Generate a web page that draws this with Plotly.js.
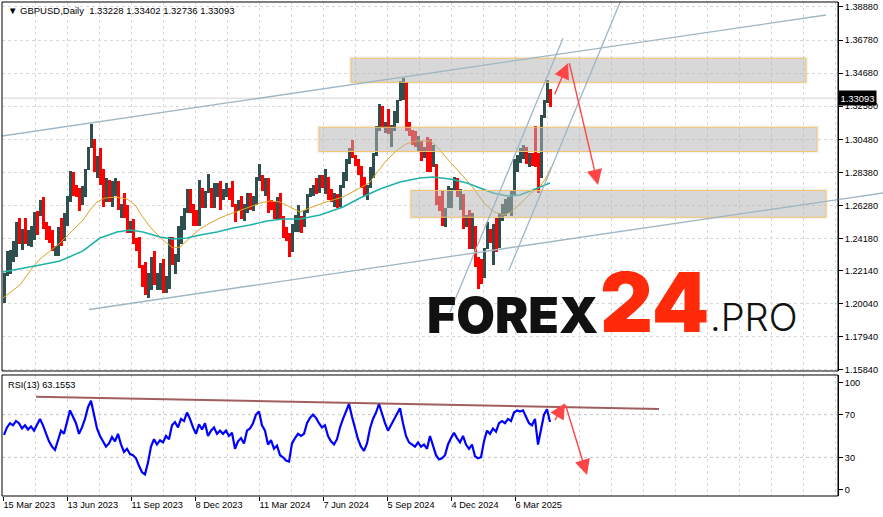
<!DOCTYPE html>
<html><head><meta charset="utf-8">
<script src="https://cdn.plot.ly/plotly-3.0.1.min.js"></script>
<style>html,body{margin:0;padding:0;background:#fff;}#chart{width:883px;height:517px;}</style>
</head><body><div id="chart"></div>
<script>
// ---- data (each sample = 3 daily bars) ----
const barStep = 3;
const high = [
1.2200,1.2340,1.2345,1.2400,1.2525,1.2545,1.2480,1.2545,1.2470,1.2500,
1.2585,1.2590,1.2665,1.2680,1.2520,1.2500,1.2470,1.2370,1.2490,1.2545,
1.2580,1.2690,1.2848,1.2840,1.2760,1.2740,1.2750,1.2860,1.3000,1.3142,
1.3050,1.2940,1.2995,1.2860,1.2800,1.2790,1.2780,1.2800,1.2780,1.2640,
1.2710,1.2630,1.2530,1.2540,1.2420,1.2425,1.2250,1.2270,1.2200,1.2300,
1.2340,1.2200,1.2260,1.2290,1.2180,1.2430,1.2430,1.2320,1.2500,1.2560,
1.2610,1.2730,1.2730,1.2640,1.2600,1.2790,1.2740,1.2720,1.2827,1.2740,
1.2770,1.2770,1.2780,1.2730,1.2770,1.2740,1.2780,1.2640,1.2660,1.2690,
1.2640,1.2710,1.2710,1.2690,1.2810,1.2894,1.2820,1.2800,1.2800,1.2660,
1.2650,1.2680,1.2710,1.2560,1.2490,1.2450,1.2510,1.2570,1.2630,1.2560,
1.2600,1.2700,1.2740,1.2760,1.2800,1.2820,1.2820,1.2860,1.2810,1.2730,
1.2710,1.2700,1.2760,1.2840,1.2920,1.2990,1.3044,1.2950,1.2920,1.2880,
1.2810,1.2760,1.2870,1.2960,1.3130,1.3270,1.3260,1.3160,1.3240,1.3140,
1.3230,1.3300,1.3420,1.3434,1.3410,1.3160,1.3110,1.3100,1.3070,1.3040,
1.3000,1.3060,1.3050,1.3010,1.2890,1.2690,1.2720,1.2610,1.2750,1.2740,
1.2811,1.2800,1.2730,1.2700,1.2570,1.2600,1.2580,1.2500,1.2300,1.2290,
1.2360,1.2520,1.2480,1.2510,1.2550,1.2580,1.2640,1.2670,1.2680,1.2720,
1.2920,1.2950,1.2990,1.3010,1.3000,1.2960,1.2960,1.3130,1.2960,1.3200,
1.3300,1.3424,1.3370];
const low = [
1.2010,1.2180,1.2190,1.2270,1.2300,1.2380,1.2345,1.2380,1.2370,1.2365,
1.2410,1.2440,1.2560,1.2480,1.2410,1.2390,1.2340,1.2310,1.2310,1.2370,
1.2400,1.2500,1.2650,1.2690,1.2680,1.2590,1.2630,1.2680,1.2850,1.2990,
1.2840,1.2800,1.2760,1.2620,1.2650,1.2650,1.2620,1.2690,1.2600,1.2550,
1.2550,1.2450,1.2450,1.2380,1.2340,1.2230,1.2110,1.2060,1.2037,1.2090,
1.2120,1.2090,1.2090,1.2070,1.2070,1.2100,1.2250,1.2190,1.2270,1.2380,
1.2470,1.2580,1.2580,1.2500,1.2500,1.2500,1.2610,1.2610,1.2710,1.2610,
1.2610,1.2680,1.2600,1.2660,1.2680,1.2660,1.2620,1.2520,1.2590,1.2540,
1.2530,1.2580,1.2600,1.2590,1.2630,1.2780,1.2720,1.2690,1.2580,1.2600,
1.2540,1.2540,1.2540,1.2420,1.2400,1.2300,1.2330,1.2460,1.2460,1.2450,
1.2490,1.2580,1.2680,1.2690,1.2700,1.2710,1.2740,1.2700,1.2660,1.2650,
1.2620,1.2610,1.2620,1.2740,1.2780,1.2890,1.2930,1.2880,1.2820,1.2740,
1.2690,1.2665,1.2740,1.2800,1.2940,1.3100,1.3120,1.3090,1.3080,1.3000,
1.3100,1.3150,1.3290,1.3300,1.3100,1.3070,1.3010,1.3000,1.2970,1.2910,
1.2930,1.2840,1.2840,1.2870,1.2630,1.2590,1.2500,1.2490,1.2610,1.2610,
1.2720,1.2680,1.2600,1.2480,1.2490,1.2350,1.2350,1.2240,1.2100,1.2130,
1.2170,1.2350,1.2390,1.2250,1.2330,1.2360,1.2530,1.2560,1.2580,1.2560,
1.2690,1.2840,1.2900,1.2920,1.2890,1.2870,1.2880,1.2870,1.2707,1.2800,
1.3180,1.3280,1.3250];
const close = [
1.2170,1.2270,1.2300,1.2380,1.2500,1.2415,1.2460,1.2410,1.2440,1.2450,
1.2570,1.2560,1.2620,1.2500,1.2480,1.2440,1.2350,1.2350,1.2450,1.2430,
1.2580,1.2670,1.2790,1.2740,1.2710,1.2700,1.2710,1.2860,1.3000,1.3040,
1.2860,1.2930,1.2840,1.2660,1.2730,1.2700,1.2730,1.2760,1.2600,1.2630,
1.2590,1.2470,1.2510,1.2400,1.2390,1.2240,1.2150,1.2070,1.2190,1.2290,
1.2140,1.2140,1.2240,1.2090,1.2150,1.2380,1.2270,1.2280,1.2410,1.2540,
1.2610,1.2700,1.2620,1.2570,1.2560,1.2680,1.2650,1.2720,1.2730,1.2700,
1.2720,1.2760,1.2700,1.2700,1.2710,1.2700,1.2630,1.2620,1.2630,1.2590,
1.2620,1.2670,1.2660,1.2660,1.2800,1.2800,1.2740,1.2790,1.2630,1.2620,
1.2550,1.2640,1.2550,1.2450,1.2440,1.2340,1.2490,1.2490,1.2560,1.2520,
1.2590,1.2670,1.2730,1.2740,1.2730,1.2760,1.2750,1.2770,1.2690,1.2660,
1.2690,1.2640,1.2750,1.2820,1.2910,1.2970,1.2930,1.2910,1.2840,1.2750,
1.2710,1.2750,1.2840,1.2950,1.3110,1.3200,1.3130,1.3140,1.3090,1.3120,
1.3210,1.3290,1.3380,1.3380,1.3120,1.3090,1.3060,1.3000,1.3040,1.2970,
1.2970,1.2920,1.2880,1.2880,1.2670,1.2660,1.2530,1.2580,1.2650,1.2740,
1.2770,1.2680,1.2700,1.2540,1.2570,1.2380,1.2480,1.2300,1.2210,1.2170,
1.2340,1.2450,1.2400,1.2480,1.2400,1.2560,1.2620,1.2660,1.2670,1.2700,
1.2890,1.2920,1.2940,1.3000,1.2920,1.2930,1.2920,1.2890,1.2800,1.3190,
1.3290,1.3340,1.33093];
const rsi = [
51,58,62,60,64,62,57,60,56,59, 55,61,66,60,52,45,40,37,46,55,
52,63,74,68,62,52,58,66,77,83, 70,57,50,45,40,43,49,45,52,42,
35,38,33,32,29,22,16,14,25,40, 47,42,46,44,50,47,60,63,58,66,
64,72,66,58,52,61,56,62,50,55, 58,52,55,52,55,50,53,38,45,48,
43,55,57,62,70,73,60,55,42,46, 38,41,32,30,27,26,43,48,52,50,
52,62,67,70,67,62,58,60,50,45, 42,47,58,66,74,80,68,58,47,40,
36,43,57,66,72,80,70,62,55,60, 65,70,76,62,50,44,42,40,44,40,
42,38,50,42,32,28,29,32,42,48, 53,48,44,50,42,38,42,31,29,30,
45,55,52,57,54,62,64,62,66,64, 72,74,73,74,68,62,60,66,42,58,
70,75,63];
// moving averages (bar index, price)
const maFastIdx = [0,17,30,37,47,57,64,72,80,87,94,102,112,124,132,137,147,160,170,177,184,190,197,207,217,227,244,257,267,277,287,297,307,323,340,353,366,373,383,393,403,413,428,437,447,461,471,481,491,501,508,518,528,536,543,548];
const maFastVal = [1.2040,1.2123,1.2237,1.2288,1.2339,1.2389,1.2434,1.2485,1.2535,1.2599,1.2650,1.2675,1.2681,1.2669,1.2631,1.2580,1.2491,1.2408,1.2358,1.2364,1.2408,1.2440,1.2478,1.2516,1.2548,1.2574,1.2612,1.2643,1.2656,1.2650,1.2618,1.2586,1.2612,1.2650,1.2681,1.2726,1.2770,1.2828,1.2910,1.2974,1.3018,1.3037,1.3037,1.2980,1.2904,1.2808,1.2732,1.2643,1.2586,1.2567,1.2586,1.2643,1.2707,1.2739,1.2802,1.2872];
const maSlowIdx = [0,17,37,57,80,97,114,127,140,157,170,184,197,214,230,247,264,280,297,317,340,357,377,397,417,430,447,464,477,490,504,517,530,547];
const maSlowVal = [1.2205,1.2224,1.2250,1.2275,1.2339,1.2421,1.2459,1.2472,1.2459,1.2427,1.2415,1.2421,1.2440,1.2459,1.2485,1.2504,1.2529,1.2542,1.2542,1.2567,1.2618,1.2675,1.2732,1.2777,1.2802,1.2808,1.2796,1.2770,1.2739,1.2707,1.2688,1.2694,1.2726,1.2770];
// axis labels
const dateTickIdx = [0,64,128,192,256,320,384,448,512];
const dateTickText = ['15 Mar 2023','13 Jun 2023','11 Sep 2023','8 Dec 2023','11 Mar 2024','7 Jun 2024','5 Sep 2024','4 Dec 2024','6 Mar 2025'];
const priceTicks = [1.38880,1.36780,1.34680,1.32580,1.30480,1.28380,1.26280,1.24180,1.22140,1.20040,1.17940,1.15840];
const rsiTicks = [0,30,70,100];
const rsiLevels = [30,70];
const headerText = 'GBPUSD,Daily\u00A0\u00A01.33228 1.33402 1.32736 1.33093';
const rsiLabel = 'RSI(13) 63.1553';
// analyst drawings: zones [idx0, idx1, price0, price1]
const zoneTop = [348, 803, 1.34099, 1.35623];
const zoneMid = [316, 814, 1.29705, 1.31242];
const zoneLow = [408, 823, 1.25528, 1.27229];
const channelTopIdx = [-1, 823], channelTopVal = [1.30688, 1.38372];
const channelBotIdx = [86, 880], channelBotVal = [1.19671, 1.27069];
const steepAIdx = [447, 560], steepAVal = [1.19512, 1.36892];
const steepBIdx = [506, 618], steepBVal = [1.22179, 1.39324];
const rsiTrendIdx = [33, 656], rsiTrendVal = [86.9, 75.3];
const arrowUpIdx = [551, 565], arrowUpVal = [1.33247, 1.35305];
const arrowDownIdx = [566, 595], arrowDownVal = [1.35406, 1.27577];
const rsiArrowUpIdx = [551, 562], rsiArrowUpVal = [63.4, 80.7];
const rsiArrowDownIdx = [562, 584], rsiArrowDownVal = [80.7, 13.4];

// ---- build ----
const X_RANGE = [-1, 835];
const Y_RANGE = [1.15766, 1.39197];
const R_RANGE = [-6.3, 107.2];
const MAIN_DOM = [0.25304, 1];
const RSI_DOM = [0, 0.24494];
const FONT = 'Liberation Sans, Arial, sans-serif';
const GRID = '#d9d9d9';
const DASH = '3px,3px';

const xs = close.map((_, k) => k * barStep + 1);
const colors = close.map((c, k) => {
  const ref = k ? close[k - 1] : (high[k] + low[k]) / 2;
  return c >= ref ? '#2F4F4F' : '#FF0000';
});

const traces = [
  {type:'bar', x:xs, base:low, y:high.map((h,k)=>h-low[k]), width:barStep,
   marker:{color:colors, line:{width:0}}, xaxis:'x2', yaxis:'y', hoverinfo:'skip'},
  {type:'scatter', mode:'lines', x:maFastIdx, y:maFastVal, line:{color:'#DAA520', width:1},
   xaxis:'x2', yaxis:'y', hoverinfo:'skip'},
  {type:'scatter', mode:'lines', x:maSlowIdx, y:maSlowVal, line:{color:'#20B2AA', width:1.6},
   xaxis:'x2', yaxis:'y', hoverinfo:'skip'},
  {type:'scatter', mode:'lines', x:xs, y:rsi, line:{color:'#0000FF', width:2.2},
   xaxis:'x', yaxis:'y2', hoverinfo:'skip'}
];

function zoneShapes(z){
  const padX = 2, padY = 2*0.000635;
  return [
    {type:'rect', xref:'x2', yref:'y', x0:z[0]-padX, x1:z[1]+padX, y0:z[2]-padY, y1:z[3]+padY,
     line:{width:0}, fillcolor:'rgba(0,0,0,0.05)', layer:'above'},
    {type:'rect', xref:'x2', yref:'y', x0:z[0], x1:z[1], y0:z[2], y1:z[3],
     line:{color:'#F2C46D', width:1}, fillcolor:'rgba(190,190,190,0.5)', layer:'above'}
  ];
}
function seg(xr, yr, xi, yi, color, w){
  return {type:'line', xref:xr, yref:yr, x0:xi[0], x1:xi[1], y0:yi[0], y1:yi[1],
          line:{color:color, width:w}, layer:'above'};
}
const TL = '#9FB6C4';
const slope = (channelBotVal[1]-channelBotVal[0])/(channelBotIdx[1]-channelBotIdx[0]);
const yAtEdge = channelBotVal[0] + slope*(X_RANGE[1]-channelBotIdx[0]);
const toPaperY = p => MAIN_DOM[0] + (p-Y_RANGE[0])/(Y_RANGE[1]-Y_RANGE[0])*(MAIN_DOM[1]-MAIN_DOM[0]);
const toPaperX = i => (i - X_RANGE[0])/(X_RANGE[1]-X_RANGE[0]);
const last = close[close.length-1];

const shapes = [
  ...zoneShapes(zoneTop), ...zoneShapes(zoneMid), ...zoneShapes(zoneLow),
  {type:'line', xref:'paper', yref:'y', x0:0, x1:1, y0:last, y1:last,
   line:{color:'#d4d4d4', width:1}, layer:'below'},
  ...rsiLevels.map(v => ({type:'line', xref:'paper', yref:'y2', x0:0, x1:1, y0:v, y1:v,
   line:{color:'#c4c4c4', width:1, dash:DASH}, layer:'below'})),
  seg('x2','y', channelTopIdx, channelTopVal, TL, 1.3),
  seg('x2','y', channelBotIdx, channelBotVal, TL, 1.3),
  {type:'line', xref:'paper', yref:'paper', x0:1, x1:toPaperX(channelBotIdx[1]),
   y0:toPaperY(yAtEdge), y1:toPaperY(channelBotVal[1]), line:{color:TL, width:1.3}},
  seg('x2','y', steepAIdx, steepAVal, TL, 1.3),
  seg('x2','y', steepBIdx, steepBVal, TL, 1.3),
  seg('x','y2', rsiTrendIdx, rsiTrendVal, 'rgba(130,40,40,0.75)', 2),
  {type:'rect', xref:'paper', yref:'paper', x0:0, x1:1, y0:MAIN_DOM[0], y1:MAIN_DOM[1],
   line:{color:'#000', width:1}, fillcolor:'rgba(0,0,0,0)'},
  {type:'rect', xref:'paper', yref:'paper', x0:0, x1:1, y0:RSI_DOM[0], y1:RSI_DOM[1],
   line:{color:'#000', width:1}, fillcolor:'rgba(0,0,0,0)'}
];

function arrow(xr, yr, xi, yi){
  return {xref:xr, yref:yr, axref:xr, ayref:yr, x:xi[1], y:yi[1], ax:xi[0], ay:yi[0],
    text:'', showarrow:true, arrowhead:2, arrowsize:2.2, arrowwidth:1.4, arrowcolor:'#FF4545', standoff:0};
}
const annotations = [
  arrow('x2','y', arrowUpIdx, arrowUpVal),
  arrow('x2','y', arrowDownIdx, arrowDownVal),
  arrow('x','y2', rsiArrowUpIdx, rsiArrowUpVal),
  arrow('x','y2', rsiArrowDownIdx, rsiArrowDownVal),
  {xref:'paper', yref:'paper', x:0.005, y:0.997, xanchor:'left', yanchor:'top', showarrow:false,
   text:'\u25BC ' + headerText, font:{family:FONT, size:9.5, color:'#000'}},
  {xref:'paper', yref:'paper', x:0.005, y:0.238, xanchor:'left', yanchor:'top', showarrow:false,
   text:rsiLabel, font:{family:FONT, size:9.2, color:'#000'}},
  {xref:'paper', yref:'y', x:1, y:last, xanchor:'left', yanchor:'middle', showarrow:false,
   text:last.toFixed(5), bgcolor:'#000', borderpad:1.5,
   font:{family:FONT, size:9.4, color:'#fff'}},
  {xref:'paper', yref:'paper', x:0.506, y:0.3654, xanchor:'left', yanchor:'middle', showarrow:false,
   text:'FOREX', font:{family:'Inter, Lato, sans-serif', size:50, weight:900, color:'#111'}},
  {xref:'paper', yref:'paper', x:0.7129, y:0.3917, xanchor:'left', yanchor:'middle', showarrow:false,
   text:'24', font:{family:'Inter, Lato, sans-serif', size:82, weight:900, color:'#FF2A0A'}},
  {xref:'paper', yref:'paper', x:0.8445, y:0.3623, xanchor:'left', yanchor:'middle', showarrow:false,
   text:'.PRO', font:{family:'Inter, Lato, sans-serif', size:38, weight:300, color:'#111'}}
];

const axFont = {family:FONT, size:9.2, color:'#000'};
const layout = {
  width:883, height:517, margin:{l:2, r:45, t:2, b:21},
  paper_bgcolor:'#fff', plot_bgcolor:'#fff', showlegend:false, bargap:0,
  xaxis:{domain:[0,1], anchor:'y2', range:X_RANGE, tickmode:'array', tickvals:dateTickIdx, ticktext:dateTickText,
    ticks:'outside', ticklen:4, tickcolor:'#000', ticklabelposition:'outside right', tickfont:axFont,
    showgrid:true, gridcolor:GRID, griddash:DASH, zeroline:false, showline:false,
    minor:{tickmode:'linear', tick0:0, dtick:32, showgrid:true, gridcolor:GRID, griddash:DASH, ticks:''}},
  xaxis2:{domain:[0,1], anchor:'y', range:X_RANGE, matches:'x', showticklabels:false, ticks:'',
    tickmode:'array', tickvals:dateTickIdx,
    showgrid:true, gridcolor:GRID, griddash:DASH, zeroline:false, showline:false,
    minor:{tickmode:'linear', tick0:0, dtick:32, showgrid:true, gridcolor:GRID, griddash:DASH, ticks:''}},
  yaxis:{domain:MAIN_DOM, anchor:'x2', side:'right', range:Y_RANGE, tickmode:'array', tickvals:priceTicks,
    ticktext:priceTicks.map(v=>v.toFixed(5)), ticks:'outside', ticklen:4, tickcolor:'#000', tickfont:axFont,
    showgrid:true, gridcolor:GRID, griddash:DASH, zeroline:false, showline:true, linecolor:'#000', linewidth:1},
  yaxis2:{domain:RSI_DOM, anchor:'x', side:'right', range:R_RANGE, tickmode:'array', tickvals:rsiTicks,
    ticks:'outside', ticklen:4, tickcolor:'#000', tickfont:axFont,
    showgrid:false, zeroline:false, showline:true, linecolor:'#000', linewidth:1},
  shapes:shapes, annotations:annotations
};
Plotly.newPlot('chart', traces, layout, {displayModeBar:false, staticPlot:true});
</script></body></html>
